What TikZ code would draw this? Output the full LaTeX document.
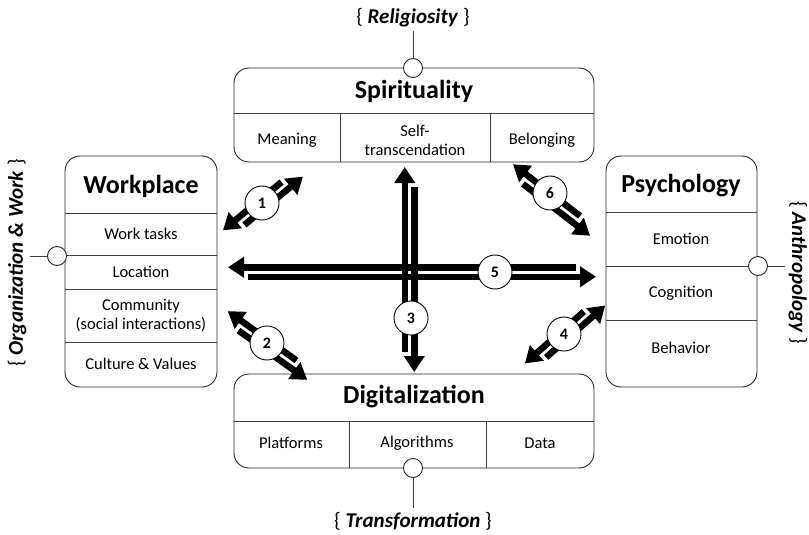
\documentclass[tikz,border=0pt]{standalone}
\usepackage{fontspec}
\setmainfont{Carlito}
\usetikzlibrary{arrows.meta,calc}
\newcommand\dblarr[3]{%
 \draw[harr] ($(#2)!20pt!(#1)!4.75pt!#3:(#2)$) -- ($(#1)!4.75pt!#3:(#2)$);
 \draw[harr] ($(#1)!20pt!(#2)!4.75pt!#3:(#1)$) -- ($(#2)!4.75pt!#3:(#1)$);
}
\tikzset{
 frame/.style={draw=black!85, line width=0.9pt, rounded corners=15pt, inner sep=0pt},
 divline/.style={draw=black!75, line width=0.7pt},
 title/.style={font=\bfseries\fontsize{26}{28}\selectfont},
 item/.style={font=\fontsize{16.5}{19}\selectfont, align=center},
 side/.style={font=\fontsize{21}{24}\selectfont},
 joint/.style={circle, draw=black!85, line width=0.9pt, fill=white, minimum size=19pt, inner sep=0pt},
 jline/.style={draw=black!75, line width=0.7pt},
 harr/.style={line width=6.5pt, -{Triangle[width=20pt,length=16pt]}},
 num/.style={circle, draw=black, line width=0.9pt, fill=white, minimum size=34pt, inner sep=0pt, font=\bfseries\fontsize{16}{18}\selectfont},
}
\begin{document}
\begin{tikzpicture}[x=1pt,y=-1pt]
\useasboundingbox (0,0) rectangle (809,535);
% ---------- Spirituality
\node[frame, minimum width=360pt, minimum height=94pt] (spi) at (414,115) {};
\draw[divline] (234,113) -- (594,113);
\draw[divline] (340,113) -- (340,162);
\draw[divline] (490,113) -- (490,162);
\node[title] (spit) at (414,91) {Spirituality};
\node[item] (mea) at (287,140) {Meaning};
\node[item] (sel) at (415,140) {Self-\\transcendation};
\node[item] (bel) at (542,140) {Belonging};
% ---------- Workplace
\node[frame, minimum width=152pt, minimum height=231pt] (wor) at (141,271.5) {};
\draw[divline] (65,213) -- (217,213);
\draw[divline] (65,255) -- (217,255);
\draw[divline] (65,289) -- (217,289);
\draw[divline] (65,342) -- (217,342);
\node[title] (wort) at (141,186) {Workplace};
\node[item] (wt) at (141,234) {Work tasks};
\node[item] (loc) at (141,272) {Location};
\node[item] (com) at (141,315) {Community\\(social interactions)};
\node[item] (cul) at (141,364) {Culture \& Values};
% ---------- Psychology
\node[frame, minimum width=151pt, minimum height=231pt] (psy) at (681.5,271.5) {};
\draw[divline] (606,212) -- (757,212);
\draw[divline] (606,266) -- (757,266);
\draw[divline] (606,320) -- (757,320);
\node[title] (psyt) at (681,186) {Psychology};
\node[item] (emo) at (681,239) {Emotion};
\node[item] (cog) at (681,293) {Cognition};
\node[item] (beh) at (681,348) {Behavior};
% ---------- Digitalization
\node[frame, minimum width=360pt, minimum height=94pt] (dig) at (414,421) {};
\draw[divline] (234,421) -- (594,421);
\draw[divline] (349,421) -- (349,468);
\draw[divline] (486,421) -- (486,468);
\node[title] (digt) at (414,397) {Digitalization};
\node[item] (pla) at (291,443) {Platforms};
\node[item] (alg) at (417,443) {Algorithms};
\node[item] (dat) at (540,443) {Data};
% ---------- outer labels
\node[joint] (jtop) at (413,68) {};
\node[side] (lrel) at (413,18) {\{ \textbf{\textit{Religiosity}} \}};
\draw[jline] (jtop) -- (lrel);
\node[joint] (jbot) at (413,468) {};
\node[side] (ltra) at (413,521) {\{ \textbf{\textit{Transformation}} \}};
\draw[jline] (jbot) -- (ltra);
\node[joint] (jleft) at (57,256) {};
\node[side, rotate=90] (lorg) at (17,263) {\{ \textbf{\textit{Organization \& Work}} \}};
\draw[jline] (jleft.west) -- (jleft.west -| lorg.south);
\node[joint] (jright) at (758,266) {};
\node[side, rotate=-90] (lant) at (798,273) {\{ \textbf{\textit{Anthropology}} \}};
\draw[jline] (jright.east) -- (jright.east -| lant.south);
% ---------- arrows
\coordinate (a5w) at (228,272); \coordinate (a5e) at (596,272);
\coordinate (a3n) at (409.5,167); \coordinate (a3s) at (409.5,372);
\coordinate (a1a) at (226,234); \coordinate (a1b) at (300,173);
\coordinate (a2a) at (225,315); \coordinate (a2b) at (310,376);
\coordinate (a6a) at (510,168); \coordinate (a6b) at (593,232);
\coordinate (a4a) at (602,302); \coordinate (a4b) at (528,367);
\dblarr{a3n}{a3s}{-90}
\dblarr{a5w}{a5e}{90}
\dblarr{a1a}{a1b}{90}
\dblarr{a2a}{a2b}{90}
\dblarr{a6a}{a6b}{90}
\dblarr{a4a}{a4b}{90}
\node[num] (n1) at (262,203) {1};
\node[num] (n2) at (267,343) {2};
\node[num] (n3) at (411,318) {3};
\node[num] (n4) at (564,334) {4};
\node[num] (n5) at (495,272) {5};
\node[num] (n6) at (550,193) {6};
\end{tikzpicture}
\end{document}
